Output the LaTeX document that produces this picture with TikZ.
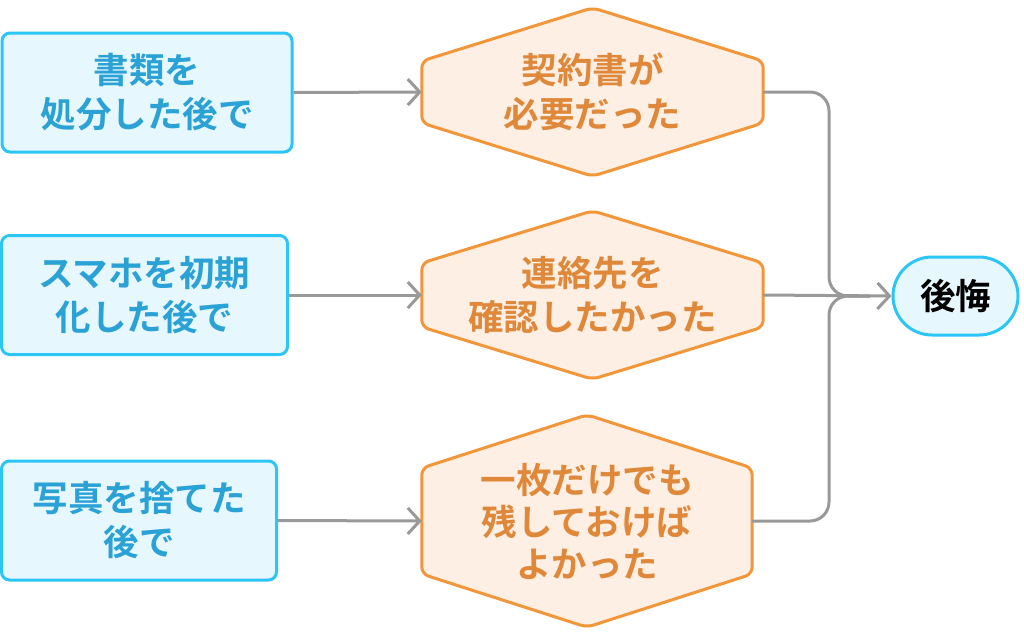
\documentclass[tikz,border=0pt]{standalone}
\usepackage{fontspec}
\newfontfamily\jpfont{Noto Sans CJK JP}[BoldFont={* Bold}]
\usetikzlibrary{arrows.meta,calc}
\definecolor{bluebd}{HTML}{2CC6F6}
\definecolor{bluefill}{HTML}{E7F7FE}
\definecolor{bluetxt}{HTML}{2AA2D6}
\definecolor{orbd}{HTML}{F2963A}
\definecolor{orfill}{HTML}{FDEFE4}
\definecolor{ortxt}{HTML}{E0883A}
\definecolor{linec}{HTML}{999999}
\tikzset{
  txt/.style={font=\jpfont\bfseries\fontsize{35.5}{44}\selectfont, align=center, inner sep=0pt},
  srcbox/.style={txt, draw=bluebd, fill=bluefill, text=bluetxt, line width=3pt, rounded corners=8pt, minimum height=119pt},
  hexnode/.style={txt, text=ortxt, minimum width=341pt},
  hexline/.style={draw=orbd, fill=orfill, line width=3pt, rounded corners=7pt, line join=round},
  endnode/.style={txt, draw=bluebd, fill=bluefill, text=black, line width=3pt, rounded corners=39pt, minimum width=125pt, minimum height=78pt},
  conn/.style={draw=linec, line width=3pt},
  arr/.style={conn, -{Straight Barb[length=12pt,width=26pt,line width=3pt]}},
}
\begin{document}
\begin{tikzpicture}[x=1pt,y=-1pt]
\fill[white] (0,0) rectangle (1024,635);
\useasboundingbox (0,0) rectangle (1024,635);

% source boxes
\node[srcbox, minimum width=290pt] (s1) at (147,92.5) {書類を\\処分した後で};
\node[srcbox, minimum width=286pt] (s2) at (144.5,295) {スマホを初期\\化した後で};
\node[srcbox, minimum width=275pt] (s3) at (139,520.5) {写真を捨てた\\後で};

% hexagon nodes (invisible frames)
\node[hexnode, minimum height=168pt] (h1) at (592.5,92) {};
\node[hexnode, minimum height=168pt] (h2) at (592.5,295) {};
\node[hexnode, minimum width=330pt, minimum height=212pt] (h3) at (587,521) {};

% hexagon outlines
\path[hexline] ($(h1.west)+(0,-31)$) -- (h1.north) -- ($(h1.east)+(0,-31)$) -- ($(h1.east)+(0,31)$) -- (h1.south) -- ($(h1.west)+(0,31)$) -- cycle;
\path[hexline] ($(h2.west)+(0,-32)$) -- (h2.north) -- ($(h2.east)+(0,-32)$) -- ($(h2.east)+(0,32)$) -- (h2.south) -- ($(h2.west)+(0,32)$) -- cycle;
\path[hexline] ($(h3.west)+(0,-53)$) -- (h3.north) -- ($(h3.east)+(0,-53)$) -- ($(h3.east)+(0,53)$) -- (h3.south) -- ($(h3.west)+(0,53)$) -- cycle;

% hexagon texts
\node[txt, text=ortxt] (t1) at (h1.center) {契約書が\\必要だった};
\node[txt, text=ortxt] (t2) at (h2.center) {連絡先を\\確認したかった};
\node[txt, text=ortxt, font=\jpfont\bfseries\fontsize{35.5}{42}\selectfont] (t3) at (h3.center) {一枚だけでも\\残しておけば\\よかった};

% final node
\node[endnode] (fin) at (955.5,296) {後悔};

% connectors
\draw[arr] (s1.east) -- (h1.west);
\draw[arr] (s2.east) -- (h2.west);
\draw[arr] (s3.east) -- (h3.west);

\coordinate (jn) at (870,296);
\draw[conn, rounded corners=19pt] (h1.east) -- (829,92) -- (829,296) -- (jn);
\draw[conn, rounded corners=19pt] (h3.east) -- (829,521) -- (829,296) -- (jn);
\draw[arr] (h2.east) -- (fin.west);
\end{tikzpicture}
\end{document}
